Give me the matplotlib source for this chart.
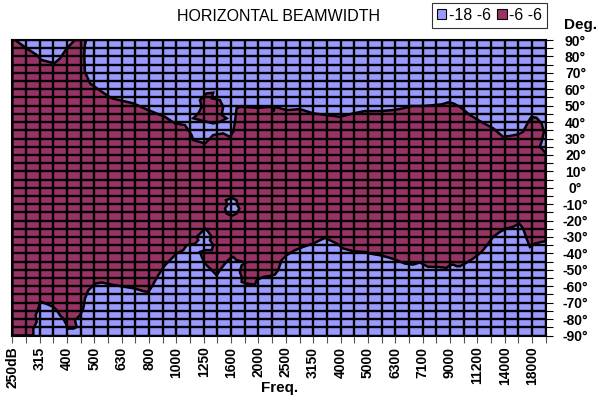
import matplotlib
matplotlib.use('Agg')
from matplotlib import pyplot as plt
from matplotlib.patches import Patch

plt.rcParams['font.family'] = ['Liberation Sans', 'DejaVu Sans']

# frequency bands (category axis), every other one labelled
freq_labels = ['250dB', '315', '400', '500', '630', '800', '1000', '1250', '1600', '2000',
               '2500', '3150', '4000', '5000', '6300', '7100', '9000', '11200', '14000', '18000']
n_bands = 40

# -6 dB contour, upper edge: band position / angle in degrees
upper_band = [0, 0.2, 1.05, 1.78, 2.15, 3.07, 3.49, 3.98, 4.58, 5.39, 5.31, 5.26, 5.31, 5.68,
              6.54, 7.27, 8.85, 9.94, 11.16, 11.89, 12.62, 12.87, 13.11, 13.23, 14.09, 14.69,
              15.42, 15.91, 16.15, 16.28, 16.40, 16.64, 17.98, 18.96, 19.08, 19.20, 20.06,
              21.03, 22.0, 22.98, 23.95, 24.93, 25.78, 26.88, 27.85, 28.58, 29.2, 30.04, 30.9,
              31.39, 31.87, 32.24, 32.73, 33.46, 34.19, 35.16, 35.89, 36.38, 36.99, 37.35,
              37.72, 37.96, 38.33, 38.7, 38.87, 38.7, 38.57, 38.82, 39.0]
upper_deg = [90, 90, 84.9, 80.9, 77.8, 75.8, 78.8, 84.9, 90, 90, 87, 80.9, 70.7, 63.6,
             58.5, 54.5, 51.4, 47.3, 43.2, 39.2, 38.2, 35.1, 32.1, 29.0, 27.0, 32.1,
             33.1, 31.0, 34.1, 40.2, 48.4, 49.3, 48.7, 49.3, 46.3, 49.3, 47.3,
             47.9, 45.3, 44.3, 43.2, 45.3, 46.7, 46.7, 47.3, 48.4, 49.8, 49.8, 50.4,
             50.8, 52.0, 51.4, 49.3, 44.3, 40.6, 36.2, 31.0, 31.6, 32.5, 34.1,
             40.2, 43.2, 42.6, 39.2, 34.1, 28.0, 24.9, 22.9, 20.9]

# -6 dB contour, lower edge
lower_band = [0, 1.54, 1.54, 1.78, 1.71, 1.90, 2.02, 2.15, 2.63, 3.0, 3.25, 3.49, 3.73, 3.98,
              4.09, 4.46, 4.71, 4.58, 4.95, 5.19, 5.31, 5.56, 6.05, 6.54, 7.27, 8.24, 8.97,
              9.58, 9.94, 10.19, 10.67, 11.16, 11.65, 12.02, 12.5, 12.75, 13.36, 13.6, 13.48,
              13.85, 14.09, 14.33, 14.58, 14.45, 14.69, 14.58, 14.09, 13.72, 13.85, 14.09,
              14.58, 14.94, 15.18, 15.55, 15.91, 16.15, 16.4, 16.89, 17.13, 16.77, 16.64,
              16.77, 16.77, 17.13, 17.74, 17.87, 18.35, 18.84, 19.2, 19.44, 19.69, 20.06,
              20.67, 21.27, 22.0, 22.86, 23.71, 24.2, 24.93, 25.78, 26.15, 26.88, 27.61,
              28.1, 28.71, 29.31, 29.8, 30.17, 30.41, 31.02, 31.75, 31.99, 32.24, 32.49,
              32.73, 33.09, 33.7, 34.31, 34.8, 35.16, 35.65, 36.14, 36.62, 37.06, 37.35,
              37.6, 37.84, 38.2, 38.7, 39.0]
lower_deg = [-90, -90, -85.8, -81.8, -77.7, -73.6, -70.5, -69.6, -71.2, -72.6, -74.6, -77.7,
             -79.7, -83.8, -85.8, -85.8, -84.8, -80.7, -77.7, -73.6, -67.5, -62.4, -58.4,
             -57.7, -59.0, -60.4, -61.4, -63.0, -63.5, -60.4, -53.3, -47.2, -43.1, -40.1,
             -38.0, -35.0, -34.0, -31.9, -29.9, -26.9, -24.8, -26.9, -29.9, -31.9, -35.0,
             -38.0, -38.0, -39.1, -42.1, -46.2, -50.2, -53.3, -50.2, -46.2, -43.1, -42.1,
             -44.1, -45.2, -45.5, -47.2, -51.3, -54.3, -57.4, -58.4, -59.0, -56.3, -54.3,
             -53.7, -52.9, -50.2, -44.1, -41.1, -38.0, -36.0, -34.0, -30.5, -34.0, -37.0,
             -38.7, -39.1, -40.1, -41.1, -42.7, -44.1, -46.2, -46.8, -45.5, -47.2, -48.2,
             -48.2, -48.8, -47.2, -46.8, -47.8, -47.8, -46.2, -43.1, -39.1, -34.0, -29.9,
             -26.9, -24.8, -23.8, -21.8, -24.8, -30.9, -36.0, -34.0, -33.0, -32.6]

# island above the main lobe around 1250
island_band = [14.21, 14.69, 14.58, 15.18, 15.42, 15.31, 15.67, 15.18, 14.69, 13.72, 13.23,
               13.6, 13.85, 13.72, 13.96]
island_deg = [57.5, 57.9, 54.5, 53.4, 49.3, 44.3, 42.3, 40.2, 39.2, 41.2, 42.3, 45.3, 49.3,
              53.4, 55.4]

# hole inside the main lobe around 1600
hole_band = [16.04, 16.4, 16.45, 16.6, 16.4, 16.04, 15.67, 15.55, 15.72, 15.62]
hole_deg = [-6.2, -7.6, -10.6, -12.6, -15.7, -17.1, -15.7, -12.6, -10.6, -7.6]

blue = '#9999FF'
purple = '#993366'

fig = plt.figure(figsize=(5.97, 4.01), dpi=100)
ax = fig.add_axes([12.3 / 597, 1 - 335.5 / 401, (545.7 - 12.3) / 597, (335.5 - 40) / 401])
ax.set_facecolor(blue)

lobe_x = upper_band + lower_band[::-1]
lobe_y = upper_deg + lower_deg[::-1]
ax.fill(lobe_x, lobe_y, facecolor=purple, edgecolor='black', lw=1.8, zorder=1)
ax.fill(island_band, island_deg, facecolor=purple, edgecolor='black', lw=1.8, zorder=1)
ax.fill(hole_band, hole_deg, facecolor=blue, edgecolor='black', lw=1.8, zorder=1)

ax.set_xlim(0, n_bands - 1)
ax.set_ylim(-90, 90)
ax.set_axisbelow(False)
ax.grid(True, color='black', lw=1.7)

xt = list(range(n_bands))
xl = [''] * n_bands
for k, lab in enumerate(freq_labels):
    xl[2 * k] = lab
ax.set_xticks(xt)
ax.set_xticklabels(xl, rotation=90, fontsize=10, fontweight='bold', va='top', ha='center')
ax.tick_params(axis='x', length=5, color='#555555', pad=3)

yt = list(range(-90, 91, 5))
yl = ['%d°' % v if v % 10 == 0 else '' for v in yt]
ax.yaxis.tick_right()
ax.set_yticks(yt)
ax.set_yticklabels(yl, fontsize=10, fontweight='bold', ha='center')
ax.tick_params(axis='y', length=5, color='black', pad=16.5)

for sp in ax.spines.values():
    sp.set_color('black')
    sp.set_linewidth(1.5)

fig.text(0.466, 0.96, 'HORIZONTAL BEAMWIDTH', fontsize=11.5, ha='center', va='center')
fig.text(0.972, 0.938, 'Deg.', fontsize=11, fontweight='bold', ha='center', va='center')
fig.text(0.469, 0.032, 'Freq.', fontsize=11, fontweight='bold', ha='center', va='center')

handles = [Patch(facecolor=blue, edgecolor='black', lw=0.8, label='-18 -6'),
           Patch(facecolor=purple, edgecolor='black', lw=0.8, label='-6 -6')]
leg = fig.legend(handles=handles, loc='upper right', bbox_to_anchor=(547 / 597, 1 - 3 / 401),
                 ncol=2, fontsize=11.5, frameon=True, fancybox=False, handlelength=0.6,
                 handleheight=0.6, handletextpad=0.15, columnspacing=0.4, borderpad=0.3,
                 borderaxespad=0)
leg.get_frame().set_edgecolor('black')
leg.get_frame().set_linewidth(0.8)

fig.savefig('out.png', dpi=100)
